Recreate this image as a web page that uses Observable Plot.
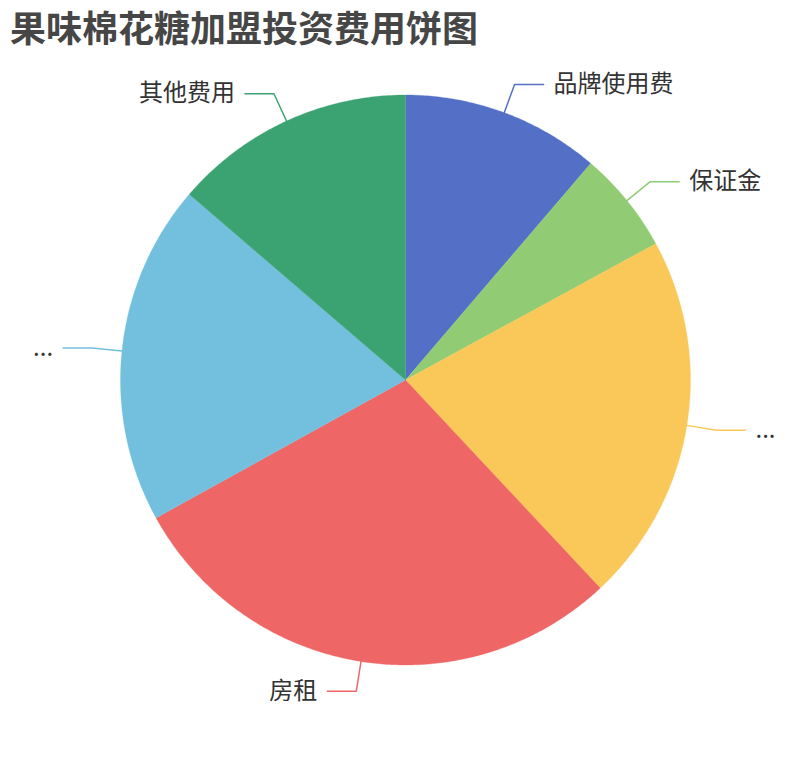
<!DOCTYPE html>
<html>
<head>
<meta charset="utf-8">
<script src="https://cdn.jsdelivr.net/npm/d3@7"></script>
<script src="https://cdn.jsdelivr.net/npm/@observablehq/plot@0.6"></script>
<style>
  html, body { margin: 0; padding: 0; background: #fff; }
  #wrap { position: relative; width: 810px; height: 760px; }
  #chart svg { display: block; }
  #title {
    position: absolute; left: 10px; top: 4.3px; margin: 0;
    font-family: 'Noto Sans CJK SC', 'Noto Sans', sans-serif;
    font-size: 36px; line-height: 44px; font-weight: bold; color: #464646;
    white-space: nowrap;
  }
</style>
</head>
<body>
<div id="wrap">
  <div id="chart"></div>
  <div id="title"></div>
</div>
<script>
const title = "果味棉花糖加盟投资费用饼图";
const categories = ["品牌使用费", "保证金", "...", "房租", "...", "其他费用"];
const values = [11.26, 5.80, 20.97, 28.93, 19.33, 13.71];
const palette = ["#5470c6", "#91cc75", "#fac858", "#ee6666", "#73c0de", "#3ba272"];

const W = 810, H = 760;
const cx = 405, cy = 379.5, R = 285;
const len1 = 30 / R, len2 = 29 / R;

const arcs = d3.pie().sort(null).value(d => d)(values);

// slice polygons in unit coordinates (radius 1, y up)
const slicePts = [];
arcs.forEach((a, i) => {
  slicePts.push({i, x: 0, y: 0});
  const n = Math.max(2, Math.ceil((a.endAngle - a.startAngle) / (Math.PI / 360)));
  for (let k = 0; k <= n; k++) {
    const t = a.startAngle + (a.endAngle - a.startAngle) * k / n;
    slicePts.push({i, x: Math.sin(t), y: Math.cos(t)});
  }
  slicePts.push({i, x: 0, y: 0});
});

// leader lines and labels
const leaderPts = [];
const labels = [];
arcs.forEach((a, i) => {
  const m = (a.startAngle + a.endAngle) / 2;
  const sx = Math.sin(m), sy = Math.cos(m);
  const right = sx >= 0;
  const ex = sx * (1 + len1), ey = sy * (1 + len1);
  const hx = ex + (right ? len2 : -len2);
  leaderPts.push({i, x: sx, y: sy}, {i, x: ex, y: ey}, {i, x: hx, y: ey});
  labels.push({i, x: hx, y: ey, text: categories[i], right});
});

const font = "'Noto Sans CJK SC', 'Noto Sans', sans-serif";

const chart = Plot.plot({
  width: W,
  height: H,
  margin: 0,
  x: {domain: [-1, 1], range: [cx - R, cx + R], axis: null},
  y: {domain: [-1, 1], range: [cy + R, cy - R], axis: null},
  color: {type: "ordinal", domain: d3.range(categories.length), range: palette},
  style: {fontFamily: font, background: "#fff"},
  marks: [
    Plot.line(slicePts, {x: "x", y: "y", z: "i", fill: "i", stroke: "i", strokeWidth: 0.3, curve: "linear"}),
    Plot.line(leaderPts, {x: "x", y: "y", z: "i", stroke: "i", strokeWidth: 1.5}),
    Plot.text(labels.filter(d => d.right), {x: "x", y: "y", text: "text", dx: 10, textAnchor: "start", fontSize: 24, fill: "#333", fontFamily: font}),
    Plot.text(labels.filter(d => !d.right), {x: "x", y: "y", text: "text", dx: -10, textAnchor: "end", fontSize: 24, fill: "#333", fontFamily: font})
  ]
});

document.getElementById("chart").appendChild(chart);
document.getElementById("title").textContent = title;
</script>
</body>
</html>
